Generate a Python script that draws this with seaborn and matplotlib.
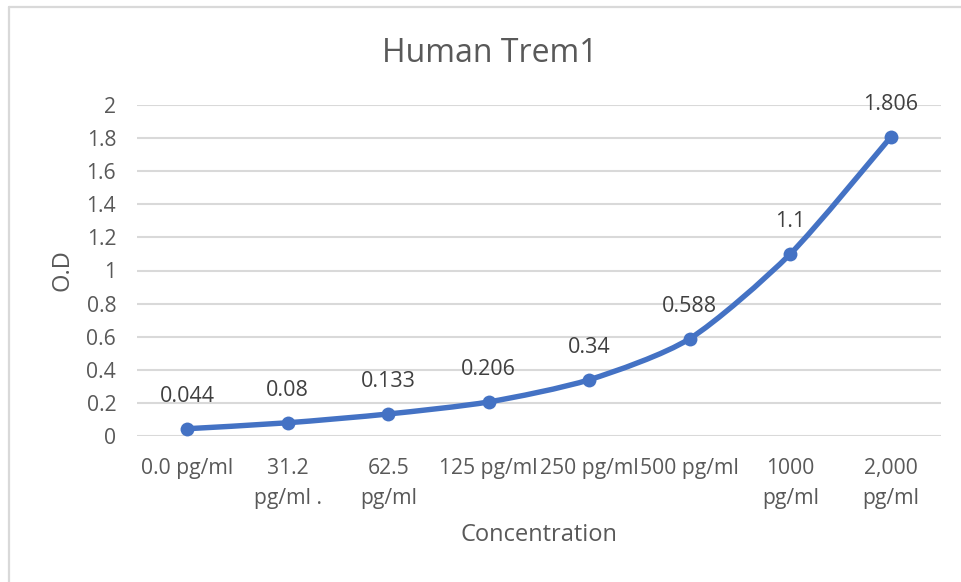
import numpy as np
import pandas as pd
import matplotlib
matplotlib.use("Agg")
import matplotlib.pyplot as plt
from matplotlib.path import Path
from matplotlib.patches import PathPatch
from matplotlib.lines import Line2D
import seaborn as sns

categories = ["0.0 pg/ml", "31.2\npg/ml .", "62.5\npg/ml", "125 pg/ml", "250 pg/ml",
              "500 pg/ml", "1000\npg/ml", "2,000\npg/ml"]
od_values = [0.044, 0.08, 0.133, 0.206, 0.34, 0.588, 1.1, 1.806]
value_labels = ["0.044", "0.08", "0.133", "0.206", "0.34", "0.588", "1.1", "1.806"]
y_ticks = [0, 0.2, 0.4, 0.6, 0.8, 1, 1.2, 1.4, 1.6, 1.8, 2]
y_tick_labels = ["0", "0.2", "0.4", "0.6", "0.8", "1", "1.2", "1.4", "1.6", "1.8", "2"]

sns.set_theme(style="white")
plt.rcParams["font.family"] = ["Open Sans", "DejaVu Sans"]

TEXT = "#595959"
GRID = "#d9d9d9"
BLUE = "#4472C4"

df = pd.DataFrame({"pos": np.arange(len(categories)), "od": od_values})

fig = plt.figure(figsize=(9.61, 5.82), dpi=100)
ax = fig.add_axes([137 / 961, 1 - 436 / 582, (941 - 137) / 961, (436 - 105) / 582])

# smoothed line (Excel-style Bezier through data points)
xs = df["pos"].to_numpy(dtype=float)
ys = df["od"].to_numpy(dtype=float)
n = len(xs)
verts = [(xs[0], ys[0])]
codes = [Path.MOVETO]
for i in range(n - 1):
    p0 = np.array([xs[max(i - 1, 0)], ys[max(i - 1, 0)]])
    p1 = np.array([xs[i], ys[i]])
    p2 = np.array([xs[i + 1], ys[i + 1]])
    p3 = np.array([xs[min(i + 2, n - 1)], ys[min(i + 2, n - 1)]])
    c1 = p1 + (p2 - p0) / 8.0
    c2 = p2 - (p3 - p1) / 8.0
    verts += [tuple(c1), tuple(c2), tuple(p2)]
    codes += [Path.CURVE4, Path.CURVE4, Path.CURVE4]
patch = PathPatch(Path(verts, codes), facecolor="none", edgecolor=BLUE, lw=3.9,
                  capstyle="round", joinstyle="round", zorder=3)
ax.add_patch(patch)

sns.scatterplot(data=df, x="pos", y="od", ax=ax, color=BLUE, s=100, linewidth=0, zorder=4)

for x, y, lab in zip(xs, ys, value_labels):
    ax.annotate(lab, (x, y), xytext=(0, 23.5), textcoords="offset points",
                ha="center", va="center", fontsize=15.5, color="#404040", zorder=5)

ax.set_xlim(-0.5, len(categories) - 0.5)
ax.set_ylim(0, 2)
ax.set_yticks(y_ticks)
ax.set_yticklabels(y_tick_labels)
ax.set_xticks(xs)
ax.set_xticklabels(categories, linespacing=1.55, va="top")
ax.tick_params(axis="y", length=0, pad=15, labelsize=15.2, labelcolor=TEXT)
ax.tick_params(axis="x", length=0, pad=16, labelsize=15.2, labelcolor=TEXT)
ax.yaxis.grid(True, color=GRID, lw=1.5)
ax.xaxis.grid(False)
ax.set_axisbelow(True)
for s in ax.spines.values():
    s.set_visible(False)

ax.set_xlabel("")
ax.set_ylabel("")
fig.text(539 / 961, 1 - 535 / 582, "Concentration", ha="center", va="center",
         fontsize=17, color=TEXT)
fig.text(62 / 961, 1 - 270 / 582, "O.D", ha="center", va="center", rotation=90,
         fontsize=17, color=TEXT)
fig.text(490 / 961, 1 - 53 / 582, "Human Trem1", ha="center", va="center",
         fontsize=23, color=TEXT)

# chart area border (top and left edges visible)
fig.add_artist(Line2D([9 / 961, 1], [1 - 7 / 582, 1 - 7 / 582], transform=fig.transFigure,
                      color=GRID, lw=1.6))
fig.add_artist(Line2D([9 / 961, 9 / 961], [0, 1 - 7 / 582], transform=fig.transFigure,
                      color=GRID, lw=1.6))

fig.savefig("out.png", dpi=100, facecolor="white")
